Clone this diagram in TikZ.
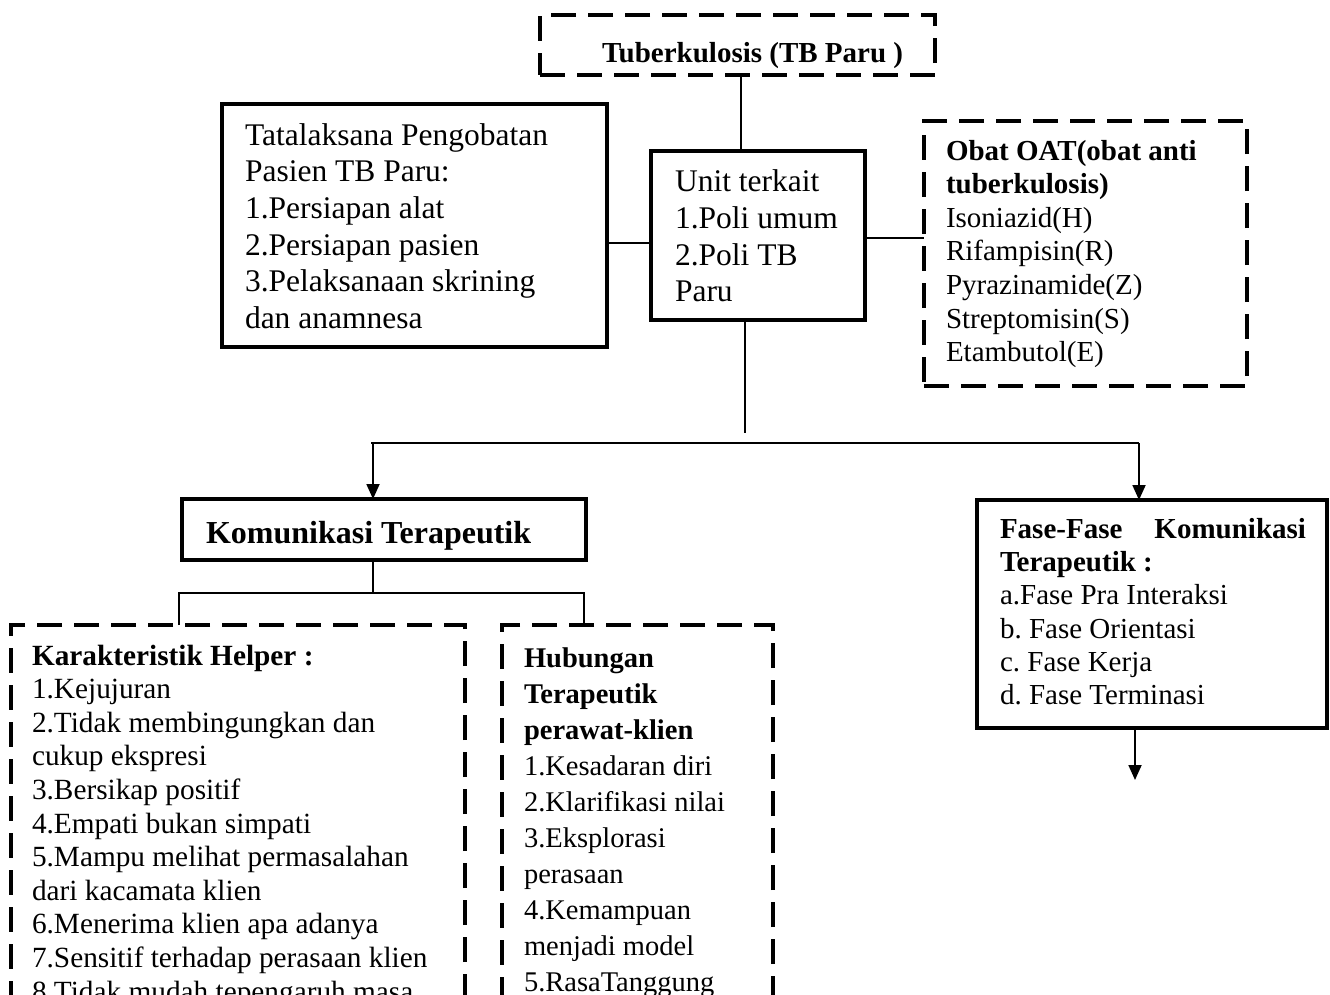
\documentclass[tikz,border=0pt]{standalone}
\usepackage{fontspec}
\setmainfont{Liberation Serif}
\usetikzlibrary{arrows.meta,calc}
\newcommand\myfs[2]{\fontsize{#1}{#2}\selectfont\frenchspacing}
\begin{document}
\begin{tikzpicture}[x=1pt,y=-1pt,
  solidbox/.style={draw,line width=4.5pt,inner sep=0pt,outer sep=0pt},
  dashbox/.style={draw,line width=4.5pt,dash pattern=on 25pt off 12pt,inner sep=0pt,outer sep=0pt},
  conn/.style={line width=1.8pt},
  arr/.style={line width=1.8pt,-{Triangle[width=13pt,length=15pt]}},
  txt/.style={anchor=base west,inner sep=0pt,outer sep=0pt,align=left}]
\useasboundingbox (0,0) rectangle (1330,994);
\clip (0,0) rectangle (1330,994);
\fill[white] (0,0) rectangle (1330,994);

% boxes
\node[dashbox,minimum width=395pt,minimum height=60pt] (top) at (737.5,45) {};
\node[solidbox,minimum width=385pt,minimum height=243pt] (tata) at (414.5,225.5) {};
\node[solidbox,minimum width=214pt,minimum height=169pt] (unit) at (758,235.5) {};
\node[dashbox,minimum width=323pt,minimum height=265pt] (obat) at (1085.5,253.5) {};
\node[solidbox,minimum width=404pt,minimum height=61pt] (komu) at (384,529.5) {};
\node[solidbox,minimum width=350pt,minimum height=228pt] (fase) at (1152,614) {};
\node[dashbox,minimum width=454pt,minimum height=475pt] (kara) at (238,862.5) {};
\node[dashbox,minimum width=271pt,minimum height=475pt] (hub) at (637.5,862.5) {};

% texts (anchor = baseline of the last line)
\node[txt,font=\myfs{29}{33}\bfseries] (tTop) at (602,62) {Tuberkulosis (TB Paru )};
\node[txt,font=\myfs{31.5}{36.7}] (tTata) at (245,328.5) {Tatalaksana Pengobatan\\Pasien TB Paru:\\1.Persiapan alat\\2.Persiapan pasien\\3.Pelaksanaan skrining\\dan anamnesa};
\node[txt,font=\myfs{31.5}{36.7}] (tUnit) at (675,301.8) {Unit terkait\\1.Poli umum\\2.Poli TB\\Paru};
\node[txt,font=\myfs{29}{33.6}] (tObat) at (946,361.6) {\textbf{Obat OAT(obat anti}\\\textbf{tuberkulosis)}\\Isoniazid(H)\\Rifampisin(R)\\Pyrazinamide(Z)\\Streptomisin(S)\\Etambutol(E)};
\node[txt,font=\myfs{32}{36}\bfseries] (tKomu) at (206,543) {Komunikasi Terapeutik};
\node[txt,font=\myfs{29}{33.3}] (tFase) at (1000,704.8) {\makebox[306pt][s]{\textbf{Fase-Fase}\hfill\textbf{Komunikasi}}\\\textbf{Terapeutik :}\\a.Fase Pra Interaksi\\b. Fase Orientasi\\c. Fase Kerja\\d. Fase Terminasi};
\node[txt,font=\myfs{29.3}{33.6}] (tKara) at (32,1001) {\textbf{Karakteristik Helper :}\\1.Kejujuran\\2.Tidak membingungkan dan\\cukup ekspresi\\3.Bersikap positif\\4.Empati bukan simpati\\5.Mampu melihat permasalahan\\dari kacamata klien\\6.Menerima klien apa adanya\\7.Sensitif terhadap perasaan klien\\8.Tidak mudah tepengaruh masa};
\node[txt,font=\myfs{28.5}{36}] (tHub) at (524,991) {\textbf{Hubungan}\\\textbf{Terapeutik}\\\textbf{perawat-klien}\\1.Kesadaran diri\\2.Klarifikasi nilai\\3.Eksplorasi\\perasaan\\4.Kemampuan\\menjadi model\\5.RasaTanggung};

% junction coordinates
\coordinate (xA) at (741,0);
\coordinate (yB) at (0,243);
\coordinate (yC) at (0,238);
\coordinate (xD) at (745,0);
\coordinate (jD) at (745,433);
\coordinate (hL) at (371,443);
\coordinate (hR) at (1139,443);
\coordinate (jL) at (373,443);
\coordinate (jK) at (373,593);
\coordinate (kL) at (179,593);
\coordinate (kR) at (584,593);
\coordinate (xF) at (1135,0);
\coordinate (fEnd) at (1135,780);

% connectors
\draw[conn] (top.south -| xA) -- (unit.north -| xA);
\draw[conn] (tata.east |- yB) -- (unit.west |- yB);
\draw[conn] (unit.east |- yC) -- (obat.west |- yC);
\draw[conn] (unit.south -| xD) -- (jD);
\draw[conn] (hL) -- (hR);
\draw[arr] (jL) -- (komu.north -| jL);
\draw[arr] (hR) -- (fase.north -| hR);
\draw[conn] (komu.south -| jK) -- (jK);
\draw[conn] (kara.north -| kL) -- (kL) -- (kR) -- (hub.north -| kR);
\draw[arr] (fase.south -| xF) -- (fEnd);
\end{tikzpicture}
\end{document}
